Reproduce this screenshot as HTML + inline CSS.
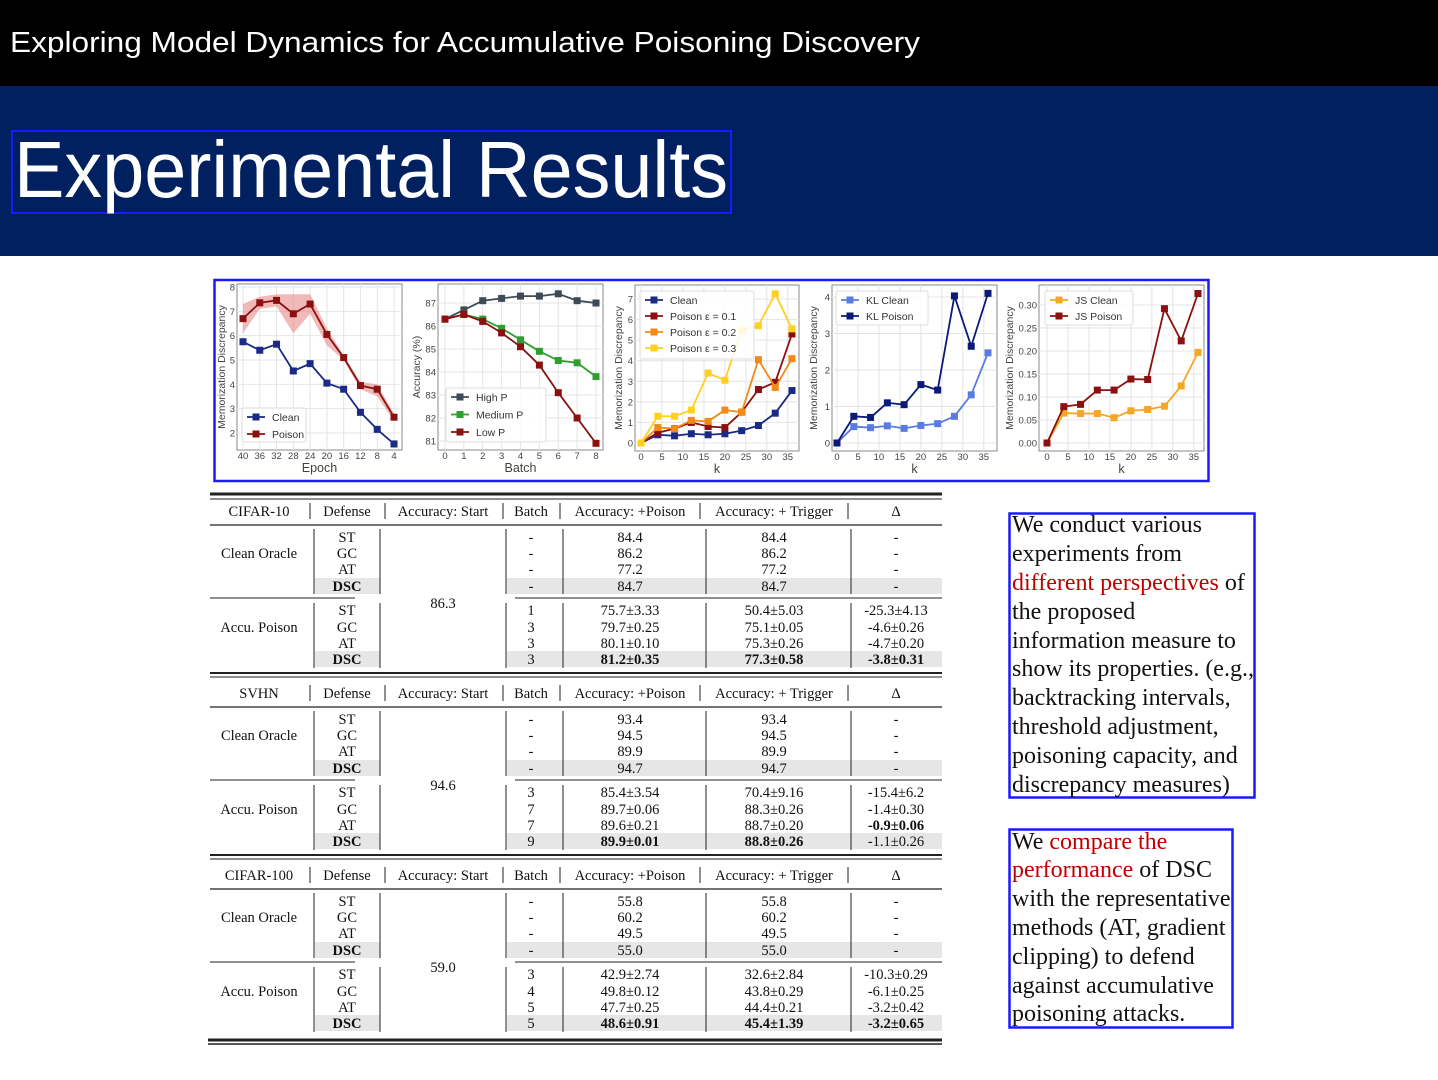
<!DOCTYPE html>
<html><head><meta charset="utf-8"><style>
html,body{margin:0;padding:0;background:#fff;width:1438px;height:1080px;overflow:hidden}
svg{display:block}
</style></head><body>
<svg id="root" width="1438" height="1080" viewBox="0 0 1438 1080" xmlns="http://www.w3.org/2000/svg" font-family="Liberation Sans, sans-serif">
<rect x="0" y="0" width="1438" height="86" fill="#000"/>
<text x="10" y="52" fill="#fff" font-size="29" textLength="910" lengthAdjust="spacingAndGlyphs">Exploring Model Dynamics for Accumulative Poisoning Discovery</text>
<rect x="0" y="86" width="1438" height="170" fill="#012060"/>
<rect x="12" y="131" width="719" height="82" fill="none" stroke="#1a1aff" stroke-width="2"/>
<text x="14" y="197" fill="#fff" font-size="80" textLength="714" lengthAdjust="spacingAndGlyphs">Experimental Results</text>
<rect x="214.5" y="280" width="994" height="201" fill="none" stroke="#1a1aff" stroke-width="2.5"/>
<g id="charts"></g>
<g id="table" font-family="Liberation Serif, serif" font-size="14.5"></g>
<g font-family="Liberation Serif, serif" font-size="24" fill="#111">
<rect x="1009.5" y="513.5" width="245" height="284" fill="none" stroke="#1a1aff" stroke-width="2.5"/>
<text>
<tspan x="1012" y="532">We conduct various</tspan>
<tspan x="1012" y="561">experiments from</tspan>
<tspan x="1012" y="590"><tspan fill="#c00000">different perspectives</tspan> of</tspan>
<tspan x="1012" y="619">the proposed</tspan>
<tspan x="1012" y="648">information measure to</tspan>
<tspan x="1012" y="676">show its properties. (e.g.,</tspan>
<tspan x="1012" y="705">backtracking intervals,</tspan>
<tspan x="1012" y="734">threshold adjustment,</tspan>
<tspan x="1012" y="763">poisoning capacity, and</tspan>
<tspan x="1012" y="792">discrepancy measures)</tspan>
</text>
<rect x="1009.5" y="829.5" width="223" height="198" fill="none" stroke="#1a1aff" stroke-width="2.5"/>
<text>
<tspan x="1012" y="849">We <tspan fill="#c00000">compare the</tspan></tspan>
<tspan x="1012" y="877"><tspan fill="#c00000">performance</tspan> of DSC</tspan>
<tspan x="1012" y="906">with the representative</tspan>
<tspan x="1012" y="935">methods (AT, gradient</tspan>
<tspan x="1012" y="964">clipping) to defend</tspan>
<tspan x="1012" y="993">against accumulative</tspan>
<tspan x="1012" y="1021">poisoning attacks.</tspan>
</text>
</g>
</svg>
<script>
// ---- chart data ----
const p1Epochs = [40,36,32,28,24,20,16,12,8,4];
const p1Clean = [5.75,5.4,5.65,4.55,4.85,4.05,3.8,2.85,2.15,1.55];
const p1Poison = [6.7,7.35,7.45,6.9,7.3,6.05,5.1,3.95,3.8,2.65];
const p1PoisonHi = [7.3,7.6,7.7,7.7,7.7,6.3,5.2,4.1,4.0,2.8];
const p1PoisonLo = [6.1,7.1,7.2,6.1,6.9,5.6,5.0,3.8,3.5,2.5];
const p2Batch = [0,1,2,3,4,5,6,7,8];
const p2High = [86.3,86.7,87.1,87.2,87.3,87.3,87.4,87.1,87.0];
const p2Medium = [86.3,86.5,86.3,85.9,85.4,84.9,84.5,84.4,83.8];
const p2Low = [86.3,86.5,86.2,85.7,85.1,84.3,83.1,82.0,80.9];
const kVals = [0,4,8,12,16,20,24,28,32,36];
const p3Clean = [0,0.4,0.35,0.45,0.4,0.45,0.6,0.85,1.45,2.55];
const p3Eps1 = [0,0.5,0.7,1.0,0.8,0.75,1.5,2.6,2.95,5.3];
const p3Eps2 = [0,0.75,0.7,1.1,1.05,1.6,1.5,4.05,2.7,4.1];
const p3Eps3 = [0,1.3,1.3,1.6,3.4,3.05,5.5,5.7,7.25,5.55];
const p4KLClean = [0,0.45,0.42,0.47,0.4,0.48,0.53,0.73,1.32,2.47];
const p4KLPoison = [0,0.73,0.7,1.1,1.05,1.6,1.45,4.03,2.65,4.1];
const p5JSClean = [0,0.065,0.064,0.064,0.055,0.07,0.073,0.08,0.124,0.197];
const p5JSPoison = [0,0.079,0.084,0.115,0.115,0.139,0.138,0.292,0.222,0.325];
const p1YTicks = [2,3,4,5,6,7,8];
const p2YTicks = [81,82,83,84,85,86,87];
const p3YTicks = [0,1,2,3,4,5,6,7];
const p4YTicks = [0,1,2,3,4];
const p5YTicks = [0,0.05,0.10,0.15,0.20,0.25,0.30];
const kTicks = [0,5,10,15,20,25,30,35];

const NS='http://www.w3.org/2000/svg';
function mk(tag, attrs, parent){const e=document.createElementNS(NS,tag);for(const k in attrs)e.setAttribute(k,attrs[k]);parent.appendChild(e);return e;}
const charts=document.getElementById('charts');

function panel(cfg){
  const g=mk('g',{},charts);
  
  
  const sx=v=>cfg.x0+(v-cfg.xmin)/(cfg.xmax-cfg.xmin)*(cfg.x1-cfg.x0);
  const sy=v=>cfg.y0+(v-cfg.ymin)/(cfg.ymax-cfg.ymin)*(cfg.y1-cfg.y0);
  mk('rect',{x:cfg.L,y:cfg.T,width:cfg.R-cfg.L,height:cfg.B-cfg.T,fill:'#fff',stroke:'#888','stroke-width':1},g);
  cfg.xticks.forEach((t,i)=>{const x=sx(t);
    mk('line',{x1:x,x2:x,y1:cfg.T,y2:cfg.B,stroke:'#e4e4e4','stroke-width':1},g);
    const tx=mk('text',{x:x,y:cfg.B+9,'font-size':9.5,fill:'#444','text-anchor':'middle'},g);tx.textContent=cfg.xlabels?cfg.xlabels[i]:t;
    
    
  });
  cfg.yticks.forEach(t=>{const y=sy(t);
    mk('line',{x1:cfg.L,x2:cfg.R,y1:y,y2:y,stroke:'#e4e4e4','stroke-width':1},g);
    const tx=mk('text',{x:cfg.L-2,y:y+3.5,'font-size':9.5,fill:'#444','text-anchor':'end'},g);tx.textContent=cfg.yfmt?cfg.yfmt(t):t;
    
    
  });
  const xl=mk('text',{x:(cfg.L+cfg.R)/2,y:cfg.B+22,'font-size':12.5,fill:'#444','text-anchor':'middle'},g);xl.textContent=cfg.xtitle;
  
  
  const yx=cfg.ytx, yy=(cfg.T+cfg.B)/2;
  const yl=mk('text',{x:yx,y:yy,'font-size':10.5,fill:'#444','text-anchor':'middle',transform:`rotate(-90 ${yx} ${yy})`},g);yl.textContent=cfg.ytitle;
  
  
  if(cfg.band){const b=cfg.band;let d='';
    b.xs.forEach((v,i)=>{d+=(i?'L':'M')+sx(v)+' '+sy(b.hi[i]);});
    for(let i=b.xs.length-1;i>=0;i--)d+='L'+sx(b.xs[i])+' '+sy(b.lo[i]);
    const p=mk('path',{d:d+'Z',fill:'#e88080','fill-opacity':0.55},g);
    
    
  }
  cfg.series.forEach(s=>{
    const pts=s.xs.map((v,i)=>sx(v)+','+sy(s.ys[i])).join(' ');
    const pl=mk('polyline',{points:pts,fill:'none',stroke:s.c,'stroke-width':1.8},g);
    
    
    s.xs.forEach((v,i)=>{const r=mk('rect',{x:sx(v)-3.5,y:sy(s.ys[i])-3.5,width:7,height:7,fill:s.c},g);
      
      });
  });
  // legend
  const lg=cfg.legend;
  const lb=mk('rect',{x:lg.x,y:lg.y,width:lg.w,height:lg.h,fill:'#fff','fill-opacity':0.85,stroke:'#ddd',rx:2},g);
  
  
  cfg.series.forEach((s,i)=>{const y=lg.y+9+i*lg.dy;
    mk('line',{x1:lg.x+5,x2:lg.x+23,y1:y,y2:y,stroke:s.c,'stroke-width':1.8},g);
    mk('rect',{x:lg.x+10.5,y:y-3.5,width:7,height:7,fill:s.c},g);
    const t=mk('text',{x:lg.x+30,y:y+4,'font-size':10.5,fill:'#333'},g);t.textContent=s.label;
    
    
  });
}
const NAVY='#1b2a86', RED='#8b1010';
panel({name:'chart-epoch',L:237,R:402,T:284,B:450,xmin:40,xmax:4,x0:243,x1:394,ymin:2,ymax:8,y0:433,y1:287,
  xticks:p1Epochs,yticks:p1YTicks,xtitle:'Epoch',ytitle:'Memorization Discrepancy',ytx:225,
  band:{xs:p1Epochs,hi:p1PoisonHi,lo:p1PoisonLo},
  series:[{name:'clean',label:'Clean',c:NAVY,xs:p1Epochs,ys:p1Clean},{name:'poison',label:'Poison',c:RED,xs:p1Epochs,ys:p1Poison}],
  legend:{x:242,y:408,w:64,h:34,dy:17}});
panel({name:'chart-batch',L:438,R:603,T:284,B:450,xmin:0,xmax:8,x0:445,x1:596,ymin:81,ymax:87,y0:441,y1:303,
  xticks:p2Batch,yticks:p2YTicks,xtitle:'Batch',ytitle:'Accuracy (%)',ytx:420,
  series:[{name:'high-p',label:'High P',c:'#3e4a56',xs:p2Batch,ys:p2High},{name:'medium-p',label:'Medium P',c:'#2f9e2f',xs:p2Batch,ys:p2Medium},{name:'low-p',label:'Low P',c:RED,xs:p2Batch,ys:p2Low}],
  legend:{x:446,y:388,w:100,h:54,dy:17.5}});
panel({name:'chart-epsilon',L:635,R:799,T:285,B:451,xmin:0,xmax:36,x0:641,x1:792,ymin:0,ymax:7,y0:443,y1:299,
  xticks:kTicks,yticks:p3YTicks,xtitle:'k',ytitle:'Memorization Discrepancy',ytx:622,
  series:[{name:'clean',label:'Clean',c:NAVY,xs:kVals,ys:p3Clean},{name:'poison-eps-0.1',label:'Poison \u03b5 = 0.1',c:RED,xs:kVals,ys:p3Eps1},{name:'poison-eps-0.2',label:'Poison \u03b5 = 0.2',c:'#f28a18',xs:kVals,ys:p3Eps2},{name:'poison-eps-0.3',label:'Poison \u03b5 = 0.3',c:'#ffd020',xs:kVals,ys:p3Eps3}],
  legend:{x:640,y:291,w:114,h:68,dy:16}});
panel({name:'chart-kl',L:832,R:997,T:285,B:451,xmin:0,xmax:36,x0:837,x1:988,ymin:0,ymax:4,y0:443,y1:297,
  xticks:kTicks,yticks:p4YTicks,xtitle:'k',ytitle:'Memorization Discrepancy',ytx:817,
  series:[{name:'kl-clean',label:'KL Clean',c:'#5a7ce0',xs:kVals,ys:p4KLClean},{name:'kl-poison',label:'KL Poison',c:'#0b1a78',xs:kVals,ys:p4KLPoison}],
  legend:{x:836,y:291,w:92,h:34,dy:16}});
panel({name:'chart-js',L:1039,R:1204,T:285,B:451,xmin:0,xmax:36,x0:1047,x1:1198,ymin:0,ymax:0.30,y0:443,y1:305,
  xticks:kTicks,yticks:p5YTicks,yfmt:v=>v.toFixed(2),xtitle:'k',ytitle:'Memorization Discrepancy',ytx:1013,
  series:[{name:'js-clean',label:'JS Clean',c:'#f5a623',xs:kVals,ys:p5JSClean},{name:'js-poison',label:'JS Poison',c:RED,xs:kVals,ys:p5JSPoison}],
  legend:{x:1045,y:291,w:88,h:34,dy:16}});

// ---- table ----
const datasets=['CIFAR-10','SVHN','CIFAR-100'];
const startAcc=['86.3','94.6','59.0'];
const cleanVals=[['84.4','86.2','77.2','84.7'],['93.4','94.5','89.9','94.7'],['55.8','60.2','49.5','55.0']];
const poisBatch=[['1','3','3','3'],['3','7','7','9'],['3','4','5','5']];
const poisAcc=[['75.7\u00b13.33','79.7\u00b10.25','80.1\u00b10.10','81.2\u00b10.35'],['85.4\u00b13.54','89.7\u00b10.06','89.6\u00b10.21','89.9\u00b10.01'],['42.9\u00b12.74','49.8\u00b10.12','47.7\u00b10.25','48.6\u00b10.91']];
const trigAcc=[['50.4\u00b15.03','75.1\u00b10.05','75.3\u00b10.26','77.3\u00b10.58'],['70.4\u00b19.16','88.3\u00b10.26','88.7\u00b10.20','88.8\u00b10.26'],['32.6\u00b12.84','43.8\u00b10.29','44.4\u00b10.21','45.4\u00b11.39']];
const deltas=[['-25.3\u00b14.13','-4.6\u00b10.26','-4.7\u00b10.20','-3.8\u00b10.31'],['-15.4\u00b16.2','-1.4\u00b10.30','-0.9\u00b10.06','-1.1\u00b10.26'],['-10.3\u00b10.29','-6.1\u00b10.25','-3.2\u00b10.42','-3.2\u00b10.65']];
const boldDelta=[[3],[2],[3]];
const defs=['ST','GC','AT','DSC'];
const tb=document.getElementById('table');
const cx=[259,347,443,531,630,774,896];
function T(x,y,s,bold,name){const t=mk('text',{x:x,y:y+5,'text-anchor':'middle',fill:'#111'},tb);if(bold)t.setAttribute('font-weight','bold');t.textContent=s;
  
  return t;}
function L(x1,y1,x2,y2,w,c){mk('line',{x1,y1,x2,y2,stroke:c||'#222','stroke-width':w||1},tb);}
datasets.forEach((ds,b)=>{
  const o=b*182;
  if(b===0){L(210,494+o,942,494+o,3);L(210,499+o,942,499+o,1);}
  else{L(210,677+o-182,942,677+o-182,1);}
  // header
  const hdr=[ds,'Defense','Accuracy: Start','Batch','Accuracy: +Poison','Accuracy: + Trigger','\u0394'];
  hdr.forEach((h,i)=>T(cx[i],511+o,h,false,'table-header-cell'));
  [310,385,503,560,700,848].forEach(x=>L(x,503+o,x,519+o,1));
  L(210,525+o,942,525+o,1.2);
  // gray rows
  mk('rect',{x:315,y:578+o,width:65,height:16,fill:'#e6e6e6'},tb);
  mk('rect',{x:507,y:578+o,width:435,height:16,fill:'#e6e6e6'},tb);
  mk('rect',{x:315,y:651+o,width:65,height:16,fill:'#e6e6e6'},tb);
  mk('rect',{x:507,y:651+o,width:435,height:16,fill:'#e6e6e6'},tb);
  const r1=[537,553,569,586], r2=[610,627,643,659];
  T(cx[0],553+o,'Clean Oracle',false,'row-group-label');
  T(cx[0],627+o,'Accu. Poison',false,'row-group-label');
  T(cx[2],603+o,startAcc[b],false,'start-accuracy');
  defs.forEach((d,i)=>{
    T(cx[1],r1[i]+o,d,i===3,'defense-cell');
    T(cx[3],r1[i]+o,'-',false,'batch-cell');
    T(cx[4],r1[i]+o,cleanVals[b][i],false,'poison-acc-cell');
    T(cx[5],r1[i]+o,cleanVals[b][i],false,'trigger-acc-cell');
    T(cx[6],r1[i]+o,'-',false,'delta-cell');
    T(cx[1],r2[i]+o,d,i===3,'defense-cell');
    T(cx[3],r2[i]+o,poisBatch[b][i],false,'batch-cell');
    T(cx[4],r2[i]+o,poisAcc[b][i],i===3,'poison-acc-cell');
    T(cx[5],r2[i]+o,trigAcc[b][i],i===3,'trigger-acc-cell');
    T(cx[6],r2[i]+o,deltas[b][i],boldDelta[b].includes(i),'delta-cell');
  });
  [314,380,506,563,706,851].forEach(x=>{L(x,529+o,x,594+o,1);L(x,603+o,x,668+o,1);});
  L(210,598+o,355,598+o,1);L(515,598+o,942,598+o,1);
  if(b<2){L(210,673+o,942,673+o,2);} 
});
L(208,1040,942,1040,3);L(208,1044,942,1044,1.5);
</script>
</body></html>
